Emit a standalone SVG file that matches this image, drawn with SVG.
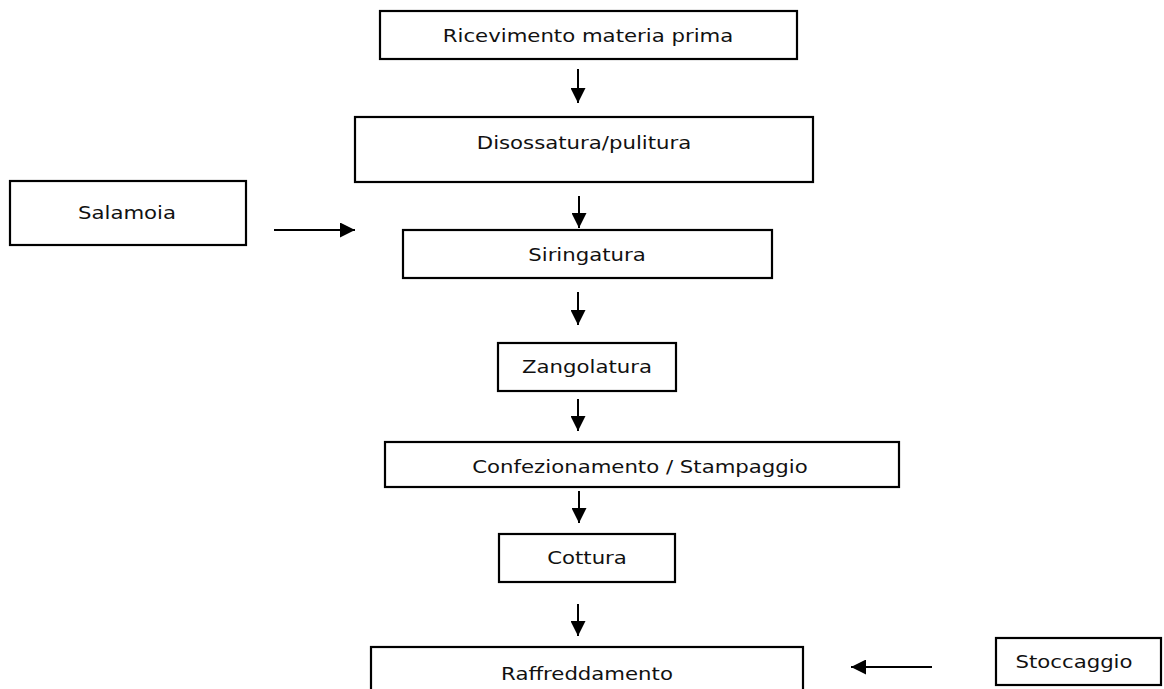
<svg xmlns="http://www.w3.org/2000/svg" width="1164" height="689" viewBox="0 0 1164 689">
<style>
.box{fill:#fff;stroke:#000;stroke-width:2.2}
.lbl{font-family:"DejaVu Sans","Liberation Sans",sans-serif;font-size:17px;fill:#111;text-anchor:middle}
.con{stroke:#000;stroke-width:2;fill:none;marker-end:url(#ah)}
</style>
<defs>
<marker id="ah" markerUnits="userSpaceOnUse" markerWidth="16" markerHeight="15" refX="15" refY="7.5" orient="auto">
<path d="M0,0 L15,7.5 L0,15 z" fill="#000"/>
</marker>
</defs>
<rect width="1164" height="689" fill="#fff"/>
<g id="ricevimento"><rect class="box" x="380" y="11" width="417" height="48"/><text class="lbl" transform="translate(588,42) scale(1.25,1)">Ricevimento materia prima</text></g>
<g id="disossatura"><rect class="box" x="355" y="117" width="458" height="65"/><text class="lbl" transform="translate(584,149) scale(1.25,1)">Disossatura/pulitura</text></g>
<g id="salamoia"><rect class="box" x="10" y="181" width="236" height="64"/><text class="lbl" transform="translate(127,219) scale(1.25,1)">Salamoia</text></g>
<g id="siringatura"><rect class="box" x="403" y="230" width="369" height="48"/><text class="lbl" transform="translate(587,261) scale(1.25,1)">Siringatura</text></g>
<g id="zangolatura"><rect class="box" x="498" y="343" width="178" height="48"/><text class="lbl" transform="translate(587,373) scale(1.25,1)">Zangolatura</text></g>
<g id="confezionamento"><rect class="box" x="385" y="442" width="514" height="45"/><text class="lbl" transform="translate(640,473) scale(1.25,1)">Confezionamento / Stampaggio</text></g>
<g id="cottura"><rect class="box" x="499" y="534" width="176" height="48"/><text class="lbl" transform="translate(587,564) scale(1.25,1)">Cottura</text></g>
<g id="raffreddamento"><rect class="box" x="371" y="647" width="432" height="60"/><text class="lbl" transform="translate(587,680) scale(1.25,1)">Raffreddamento</text></g>
<g id="stoccaggio"><rect class="box" x="996" y="638" width="165" height="47"/><text class="lbl" transform="translate(1074,668) scale(1.25,1)">Stoccaggio</text></g>
<g id="connectors">
<line class="con" x1="578" y1="69" x2="578" y2="103"/>
<line class="con" x1="579" y1="196" x2="579" y2="228"/>
<line class="con" x1="274" y1="230" x2="355" y2="230"/>
<line class="con" x1="578" y1="292" x2="578" y2="325"/>
<line class="con" x1="578" y1="399" x2="578" y2="431"/>
<line class="con" x1="579" y1="491" x2="579" y2="523"/>
<line class="con" x1="578" y1="604" x2="578" y2="636"/>
<line class="con" x1="932" y1="667" x2="851" y2="667"/>
</g>
</svg>
